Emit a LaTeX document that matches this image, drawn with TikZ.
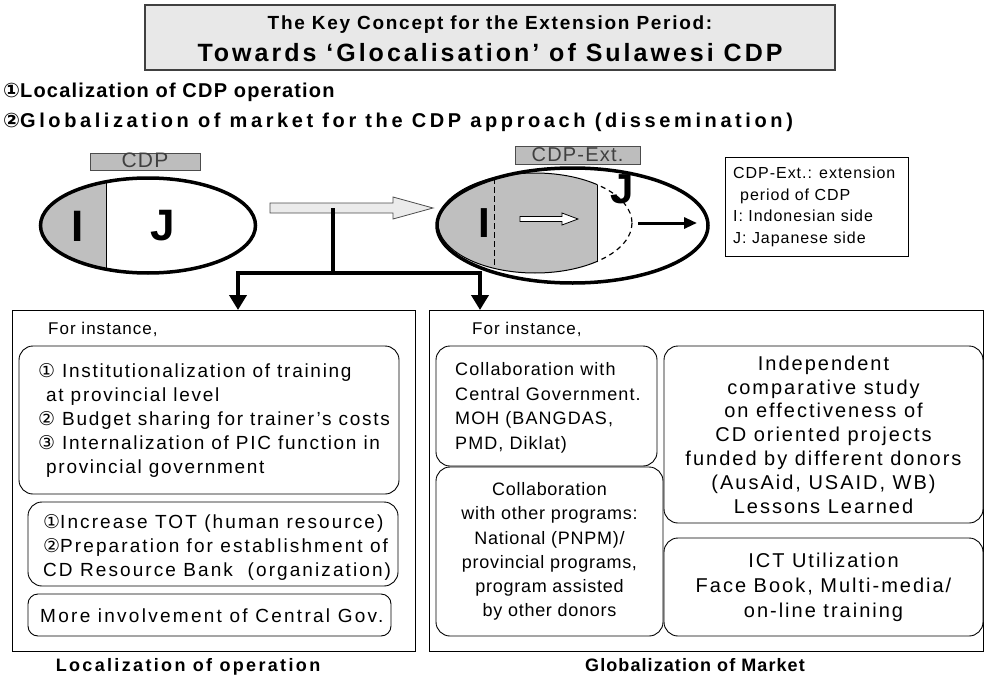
\documentclass[tikz,border=0pt]{standalone}
\usepackage{fontspec}
\setmainfont{Liberation Sans}[LetterSpace=6]
\newfontfamily\numfont{DejaVu Sans}
\newcommand\cnum[1]{{\numfont #1}}
\newcommand\track[1]{\addfontfeature{LetterSpace=#1}}
\usetikzlibrary{arrows.meta}
\definecolor{partfill}{gray}{0.75}
\definecolor{titlefill}{gray}{0.91}
\definecolor{tagfill}{gray}{0.74}
\definecolor{arrowfill}{gray}{0.92}
\begin{document}
\begin{tikzpicture}[x=1pt,y=-1pt,
  txt/.style={inner sep=0pt, font=\fontsize{17}{24}\selectfont},
  rbox/.style={draw, line width=0.9pt, rounded corners=14pt, fill=white, inner sep=0pt, outer sep=0pt},
  boxtext/.style={inner sep=0pt, align=left, anchor=west},
  panel/.style={draw, line width=1pt, inner sep=0pt, outer sep=0pt},
  forkline/.style={line width=4pt},
  downtip/.style={-{Triangle[width=17pt,length=15pt]}},
  tag/.style={draw=black!70, fill=tagfill, line width=0.8pt, inner sep=0pt, text=black!75, text height=12pt, text depth=0pt},
  big/.style={inner sep=0pt, font=\bfseries\fontsize{44}{44}\selectfont},
  heading/.style={anchor=west, inner sep=0pt},
  caption/.style={inner sep=0pt},
]
\useasboundingbox (0,0) rectangle (985,677);

% ---- title banner ----
\node[draw=black!75, fill=titlefill, line width=1.2pt, minimum width=690pt, minimum height=65pt, inner sep=0pt] (title) at (490,37.5) {};
\node[inner sep=0pt, font=\bfseries\fontsize{19}{22}\selectfont\track{9}] (t1) at (490,25) {The Key Concept for the Extension Period:};
\node[inner sep=0pt, font=\bfseries\fontsize{25}{28}\selectfont\track{12}] (t2) at (490,53) {Towards ‘Glocalisation’ of Sulawesi CDP};

% ---- two aims ----
\node[heading, font=\bfseries\fontsize{20}{24}\selectfont] (h1) at (3,92) {\cnum{①}Localization of CDP operation};
\node[heading, font=\bfseries\fontsize{20}{24}\selectfont\track{18}] (h2) at (3,122) {\cnum{②}Globalization of market for the CDP approach (dissemination)};

% ---- CDP: current partnership ----
\begin{scope}
  \clip (148,225.5) ellipse [x radius=107.5, y radius=47.5];
  \fill[partfill] (30,170) rectangle (106,280);
  \draw[line width=1pt] (106,170) -- (106,280);
\end{scope}
\draw[line width=3.5pt] (148,225.5) ellipse [x radius=107.5, y radius=47.5];
\node[big] (li) at (78,226) {I};
\node[big] (lj) at (163,226) {J};
\node[tag, minimum width=110pt, minimum height=17pt, font=\fontsize{21}{21}\selectfont] (cdp) at (145,161.5) {CDP};

% ---- transition arrow ----
\draw[draw=black!70, fill=arrowfill, line width=0.8pt]
  (270,203) -- (393,203) -- (393,197) -- (433,208) -- (393,219) -- (393,213) -- (270,213) -- cycle;
\coordinate (fork) at (333,208);
\coordinate (split) at (333,273);
\coordinate (arrL) at (238,310);
\coordinate (arrR) at (480,310);

% ---- CDP-Ext.: extension period ----
\begin{scope}
  \clip (535,223) ellipse [x radius=97, y radius=50];
  \fill[partfill] (430,160) rectangle (597,290);
  \draw[line width=1pt] (597,160) -- (597,290);
  \draw[line width=1pt, dash pattern=on 6pt off 3pt] (494,160) -- (494,290);
\end{scope}
\begin{scope}
  \clip (430,160) rectangle (597,290);
  \draw[line width=1pt] (535,223) ellipse [x radius=97, y radius=50];
\end{scope}
\begin{scope}
  \clip (597,160) rectangle (700,290);
  \draw[line width=1.2pt, dash pattern=on 5pt off 4pt] (535,223) ellipse [x radius=97, y radius=50];
\end{scope}
\draw[line width=3.5pt] (572.5,225.5) ellipse [x radius=135.5, y radius=57.5];
\node[big, font=\bfseries\fontsize{42}{42}\selectfont] (ri) at (484,223) {I};
\node[big, font=\bfseries\fontsize{42}{42}\selectfont] (rj) at (622,189) {J};
\draw[line width=0.8pt, fill=white]
  (520,216.5) -- (562,216.5) -- (562,213) -- (578,219) -- (562,225) -- (562,221.5) -- (520,221.5) -- cycle;
\coordinate (ja) at (638,223);
\coordinate (jb) at (697,223);
\draw[line width=3pt, -{Triangle[width=11pt,length=13pt]}] (ja) -- (jb);
\node[tag, minimum width=125pt, minimum height=18pt, font=\fontsize{20}{20}\selectfont] (cdpext) at (577.5,155.5) {CDP-Ext.};

% ---- legend ----
\node[draw, line width=1pt, minimum width=183pt, minimum height=99pt, inner sep=0pt] (legend) at (816.5,206.5) {};
\node[anchor=west, inner sep=0pt, align=left, font=\fontsize{16}{21.5}\selectfont] (legtxt) at (733,207)
  {CDP-Ext.: extension\\\hspace*{7pt}period of CDP\\I: Indonesian side\\J: Japanese side};

% ---- panels ----
\node[panel, minimum width=403pt, minimum height=341pt] (lpanel) at (213.5,480.5) {};
\node[panel, minimum width=554pt, minimum height=341pt] (rpanel) at (706,480.5) {};

% ---- fork into the two panels ----
\draw[forkline] (fork) -- (split);
\draw[forkline, downtip] (split) -| (arrL);
\draw[forkline, downtip] (split) -| (arrR);

% ---- localization panel ----
\node[txt, anchor=west] (fi1) at (48,329) {For instance,};
\node[rbox, minimum width=380pt, minimum height=148pt] (b1) at (209,420) {};
\node[boxtext, font=\fontsize{19}{24}\selectfont\track{9}] (b1t) at (38,420.5)
  {\cnum{①} Institutionalization of training\\\hspace*{8pt}at provincial level\\\cnum{②} Budget sharing for trainer’s costs\\\cnum{③} Internalization of PIC function in\\\hspace*{8pt}provincial government};
\node[rbox, minimum width=370pt, minimum height=84pt] (b2) at (213,544) {};
\node[boxtext, font=\fontsize{19}{24}\selectfont\track{11}] (b2t) at (43,547)
  {\cnum{①}Increase TOT (human resource)\\\cnum{②}Preparation for establishment of\\CD Resource Bank\ \ (organization)};
\node[rbox, minimum width=363pt, minimum height=42pt, rounded corners=10pt] (b3) at (209.5,615) {};
\node[boxtext, font=\fontsize{19}{24}\selectfont\track{12}] (b3t) at (40,616)
  {More involvement of Central Gov.};
\node[caption, font=\bfseries\fontsize{18}{20}\selectfont\track{13}] (cap1) at (188,667) {Localization of operation};

% ---- globalization panel ----
\node[txt, anchor=west] (fi2) at (472,329) {For instance,};
\node[rbox, minimum width=221pt, minimum height=120pt] (ba) at (546.5,406) {};
\node[boxtext, font=\fontsize{18}{24.5}\selectfont\track{6}] (bat) at (455,408)
  {Collaboration with\\Central Government.\\MOH (BANGDAS,\\PMD, Diklat)};
\node[rbox, minimum width=227pt, minimum height=169pt, align=center, font=\fontsize{18}{24.2}\selectfont\track{4}] (bb) at (549.5,551.5)
  {Collaboration\\with other programs:\\National (PNPM)/\\provincial programs,\\program assisted\\by other donors};
\node[rbox, minimum width=319pt, minimum height=177pt, align=center, font=\fontsize{20}{23.8}\selectfont\track{10}] (bc) at (823.5,434.5)
  {Independent\\comparative study\\on effectiveness of\\CD oriented projects\\funded by different donors\\(AusAid, USAID, WB)\\Lessons Learned};
\node[rbox, minimum width=319pt, minimum height=98pt, align=center, font=\fontsize{20}{25}\selectfont\track{10}] (bd) at (823.5,587)
  {ICT Utilization\\Face Book, Multi-media/\\on-line training};
\node[caption, font=\bfseries\fontsize{18}{20}\selectfont] (cap2) at (695,665) {Globalization of Market};
\end{tikzpicture}
\end{document}
